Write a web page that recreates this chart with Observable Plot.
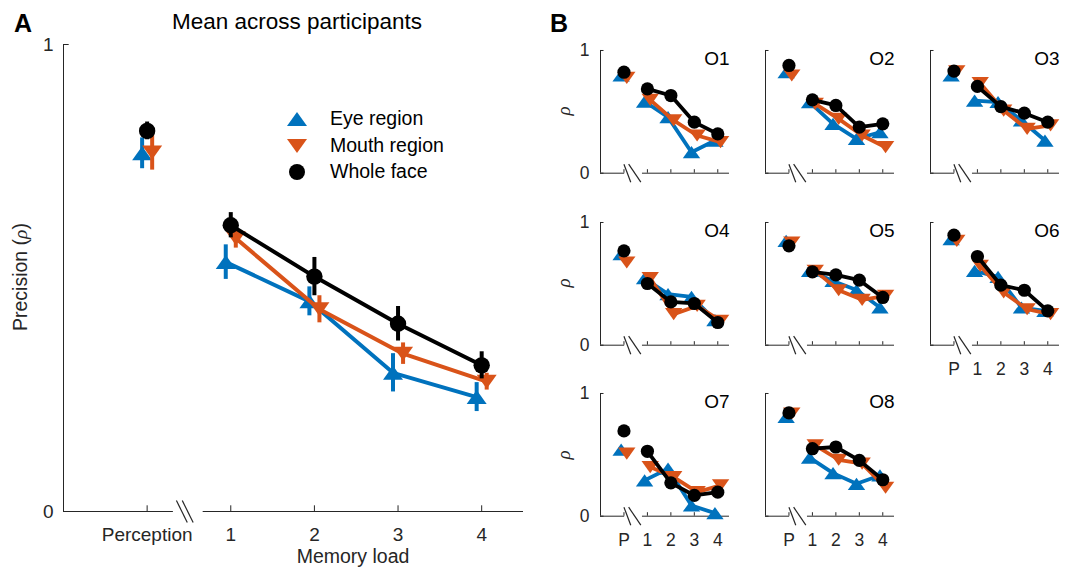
<!DOCTYPE html>
<html>
<head>
<meta charset="utf-8">
<script src="https://cdn.jsdelivr.net/npm/d3@7"></script>
<script src="https://cdn.jsdelivr.net/npm/@observablehq/plot@0.6"></script>
<style>
  html, body { margin: 0; padding: 0; background: #fff; }
  #fig { position: relative; width: 1078px; height: 568px; overflow: hidden; background: #fff;
         font-family: "Liberation Sans", Arial, Helvetica, sans-serif; color: #000; }
  .pane { position: absolute; }
  .pane svg { display: block; max-width: none !important; }
  .txt { position: absolute; white-space: nowrap; line-height: 1; }
  .rho { font-family: "Liberation Serif", "DejaVu Serif", serif; font-style: italic; }
</style>
</head>
<body>
<div id="fig"></div>
<script>
// ---------------- data ----------------
const positions = [0, 1, 2, 3, 4];                 // Perception, load 1..4
const tickLabelsA = ["Perception", "1", "2", "3", "4"];
const tickLabelsB = ["P", "1", "2", "3", "4"];
const seriesNames = ["Eye region", "Mouth region", "Whole face"];
const seriesColors = ["#0072BD", "#D95319", "#000000"];

// Panel A: mean across participants
const meanEye   = [0.767, 0.534, 0.450, 0.297, 0.245];
const meanMouth = [0.769, 0.585, 0.433, 0.338, 0.278];
const meanWhole = [0.815, 0.613, 0.503, 0.402, 0.313];
const semEye    = [0.033, 0.037, 0.031, 0.041, 0.031];
const semMouth  = [0.038, 0.021, 0.029, 0.023, 0.018];
const semWhole  = [0.019, 0.027, 0.041, 0.037, 0.029];

// Panel B: individual observers
const observers = ["O1", "O2", "O3", "O4", "O5", "O6", "O7", "O8"];
const obsEye = [
  [0.796, 0.584, 0.457, 0.171, 0.266],
  [0.823, 0.579, 0.402, 0.280, 0.334],
  [0.796, 0.592, 0.580, 0.430, 0.266],
  [0.742, 0.546, 0.416, 0.394, 0.204],
  [0.850, 0.606, 0.524, 0.450, 0.307],
  [0.864, 0.606, 0.557, 0.307, 0.280],
  [0.542, 0.292, 0.387, 0.087, 0.025],
  [0.809, 0.477, 0.351, 0.264, 0.332]
];
const obsMouth = [
  [0.777, 0.598, 0.430, 0.307, 0.253],
  [0.796, 0.565, 0.443, 0.307, 0.212],
  [0.830, 0.734, 0.510, 0.361, 0.389],
  [0.674, 0.546, 0.253, 0.320, 0.198],
  [0.837, 0.606, 0.448, 0.370, 0.402],
  [0.850, 0.647, 0.430, 0.293, 0.253],
  [0.510, 0.400, 0.319, 0.196, 0.251],
  [0.837, 0.578, 0.460, 0.428, 0.232]
];
const obsWhole = [
  [0.823, 0.687, 0.633, 0.416, 0.320],
  [0.878, 0.598, 0.552, 0.375, 0.402],
  [0.832, 0.707, 0.543, 0.489, 0.416],
  [0.769, 0.503, 0.353, 0.340, 0.185],
  [0.810, 0.598, 0.573, 0.530, 0.389],
  [0.897, 0.723, 0.489, 0.448, 0.280],
  [0.695, 0.529, 0.272, 0.169, 0.196],
  [0.842, 0.550, 0.564, 0.455, 0.297]
];

// ---------------- styling / layout ----------------
const xDomain = [-1, 4.5];
const axisColor = "#262626";
const textColor = "#262626";
const fontFamily = '"Liberation Sans", Arial, Helvetica, sans-serif';

const triUp = { draw(ctx, size) { const r = Math.sqrt(size / Math.PI), h = 0.7 * r;
  ctx.moveTo(0, -h); ctx.lineTo(r, h); ctx.lineTo(-r, h); ctx.closePath(); } };
const triDown = { draw(ctx, size) { const r = Math.sqrt(size / Math.PI), h = 0.7 * r;
  ctx.moveTo(0, h); ctx.lineTo(r, -h); ctx.lineTo(-r, -h); ctx.closePath(); } };
const seriesSymbols = [triUp, triDown, "circle"];

const fig = document.getElementById("fig");

function makePanel(cfg) {
  const plotW = cfg.width - cfg.mL - cfg.mR;
  const plotH = cfg.height - cfg.mT - cfg.mB;
  const ux = plotW / (xDomain[1] - xDomain[0]);
  const tY = cfg.tickLen / plotH;
  const tX = cfg.tickLen / ux;
  const bh = cfg.breakHalf / plotH;
  const marks = [];
  // axis lines (MATLAB style, broken x axis)
  marks.push(Plot.ruleX([xDomain[0]], {y1: 0, y2: 1, stroke: axisColor, strokeWidth: 1}));
  marks.push(Plot.ruleY([[xDomain[0], cfg.gap[0]], [cfg.gap[1], xDomain[1]]],
    {y: 0, x1: d => d[0], x2: d => d[1], stroke: axisColor, strokeWidth: 1}));
  marks.push(Plot.ruleX(positions, {x: d => d, y1: 0, y2: tY, stroke: axisColor, strokeWidth: 1}));
  marks.push(Plot.ruleY([0, 1], {y: d => d, x1: xDomain[0], x2: xDomain[0] + tX, stroke: axisColor, strokeWidth: 1}));
  marks.push(Plot.link(cfg.breaks, {x1: d => d[0], x2: d => d[1], y1: bh, y2: -bh, stroke: axisColor, strokeWidth: 1.2}));
  if (cfg.xLabels) {
    marks.push(Plot.axisX({ticks: positions, tickFormat: i => cfg.xLabels[i], tickSize: 0,
      tickPadding: cfg.padX, label: null, fill: textColor}));
  }
  if (cfg.showY) {
    marks.push(Plot.axisY({ticks: [0, 1], tickFormat: d => String(d), tickSize: 0,
      tickPadding: cfg.padY, label: null, fill: textColor}));
  }
  cfg.series.forEach((vals, s) => {
    const pts = positions.map(i => ({
      pos: i, x: i + cfg.offsets[s], y: vals[i],
      lo: cfg.errs ? vals[i] - cfg.errs[s][i] : null,
      hi: cfg.errs ? vals[i] + cfg.errs[s][i] : null
    }));
    const loadPts = pts.filter(d => d.pos >= 1);
    marks.push(Plot.line(loadPts, {x: "x", y: "y", stroke: seriesColors[s], strokeWidth: cfg.lineW,
      strokeLinejoin: "round"}));
    if (cfg.errs) marks.push(Plot.ruleX(pts, {x: "x", y1: "lo", y2: "hi", stroke: seriesColors[s], strokeWidth: cfg.errW}));
    marks.push(Plot.dot(pts, {x: "x", y: "y", symbol: seriesSymbols[s], r: cfg.r[s], fill: seriesColors[s]}));
  });
  if (cfg.label) {
    marks.push(Plot.text([cfg.label], {frameAnchor: "top-right", textAnchor: "end", lineAnchor: "middle",
      dy: cfg.labelDy, fontSize: cfg.labelSize, fill: "#000"}));
  }
  const xOpt = {type: "linear", domain: xDomain};
  if (!cfg.xLabels) xOpt.axis = null;
  const yOpt = {type: "linear", domain: [0, 1]};
  if (!cfg.showY) yOpt.axis = null;
  const svg = Plot.plot({
    width: cfg.width, height: cfg.height,
    marginLeft: cfg.mL, marginRight: cfg.mR, marginTop: cfg.mT, marginBottom: cfg.mB,
    x: xOpt, y: yOpt,
    style: {background: "transparent", overflow: "visible", fontFamily, fontSize: cfg.fontSize + "px", color: textColor},
    marks
  });
  const wrap = document.createElement("div");
  wrap.className = "pane";
  wrap.style.left = cfg.left + "px";
  wrap.style.top = cfg.top + "px";
  wrap.style.width = cfg.width + "px";
  wrap.style.height = cfg.height + "px";
  wrap.appendChild(svg);
  fig.appendChild(wrap);
}

function addText(html, {x, baseline, size, anchor = "start", weight = "normal", color = "#000"}) {
  const d = document.createElement("div");
  d.className = "txt";
  d.innerHTML = html;
  d.style.fontSize = size + "px";
  d.style.fontWeight = weight;
  d.style.color = color;
  d.style.top = (baseline - 0.8465 * size) + "px";
  d.style.left = x + "px";
  if (anchor === "middle") d.style.transform = "translateX(-50%)";
  fig.appendChild(d);
}
function addRotated(html, {cx, cy, size, color = "#000", cls = ""}) {
  const d = document.createElement("div");
  d.className = "txt " + cls;
  d.innerHTML = html;
  d.style.fontSize = size + "px";
  d.style.color = color;
  d.style.left = cx + "px";
  d.style.top = cy + "px";
  d.style.transform = "translate(-50%, -50%) rotate(-90deg)";
  fig.appendChild(d);
}

// ---------------- Panel A ----------------
makePanel({
  left: 0, top: 0, width: 540, height: 568,
  mL: 63, mR: 17, mT: 44, mB: 57,
  fontSize: 19, padX: 16, padY: 10,
  tickLen: 5.7, gap: [0.314, 0.67], breaks: [[0.35, 0.48], [0.42, 0.55]], breakHalf: 11,
  series: [meanEye, meanMouth, meanWhole], errs: [semEye, semMouth, semWhole],
  offsets: [-0.06, 0.06, 0.0], lineW: 4, errW: 4, r: [10, 10, 8.2],
  xLabels: tickLabelsA, showY: true
});

addText("A", {x: 14, baseline: 32, size: 25, weight: "bold"});
addText("Mean across participants", {x: 297, baseline: 30, size: 22.5, anchor: "middle"});
addText("Memory load", {x: 353, baseline: 564, size: 19.5, anchor: "middle", color: textColor});
addRotated('Precision (<span class="rho">ρ</span>)', {cx: 21, cy: 277, size: 19.5, color: textColor});

// legend
const legendRows = [119, 146, 172];
const legendPaths = [
  '<path d="M12,3L22,17L2,17Z" fill="' + seriesColors[0] + '"/>',
  '<path d="M12,17L22,3L2,3Z" fill="' + seriesColors[1] + '"/>',
  '<circle cx="12" cy="10" r="8" fill="' + seriesColors[2] + '"/>'
];
seriesNames.forEach((name, i) => {
  const m = document.createElement("div");
  m.className = "pane";
  m.style.left = (296.7 - 12) + "px";
  m.style.top = (legendRows[i] - 10) + "px";
  m.innerHTML = '<svg width="24" height="20" viewBox="0 0 24 20">' + legendPaths[i] + '</svg>';
  fig.appendChild(m);
  addText(name, {x: 330, baseline: legendRows[i] + 6.8, size: 19.5});
});

// ---------------- Panel B ----------------
addText("B", {x: 550, baseline: 32, size: 25, weight: "bold"});
const colX = [600, 765, 930];
const rowTop = [50, 221.7, 393.3];
const frameH = 122.7;
observers.forEach((name, k) => {
  const col = k % 3, row = Math.floor(k / 3);
  const showX = (row === 2) || (k === 5);
  const showY = col === 0;
  makePanel({
    left: colX[col] - 40, top: rowTop[row] - 12, width: 179, height: 12 + frameH + 40,
    mL: 40, mR: 10, mT: 12, mB: 40,
    fontSize: 17.5, padX: 17, padY: 11,
    tickLen: 3.5, gap: [0.03, 0.79], breaks: [[0.0, 0.29], [0.2, 0.72]], breakHalf: 9,
    series: [obsEye[k], obsMouth[k], obsWhole[k]], errs: null,
    offsets: [-0.12, 0.12, 0.0], lineW: 3.8, errW: 0, r: [8.7, 8.7, 6.6],
    xLabels: showX ? tickLabelsB : null, showY,
    label: name, labelSize: 19, labelDy: 8
  });
  if (showY) addRotated('<span class="rho">ρ</span>', {cx: 563, cy: rowTop[row] + frameH / 2, size: 19, color: textColor});
});
</script>
</body>
</html>
